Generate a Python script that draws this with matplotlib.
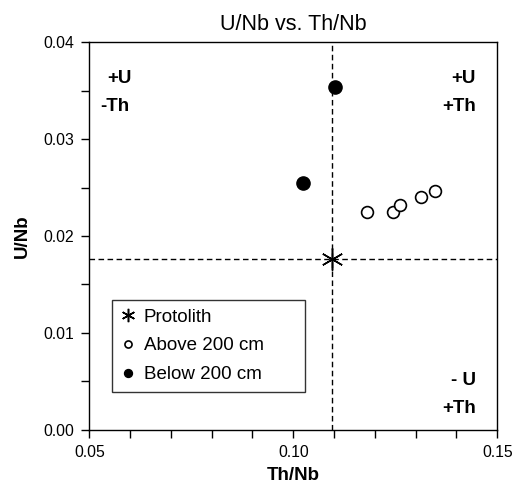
import matplotlib
matplotlib.use("Agg")
import matplotlib.pyplot as plt
from matplotlib.ticker import MultipleLocator

plt.rcParams['font.family'] = ['Liberation Sans', 'DejaVu Sans']

# data
protolith_x = [0.1094]
protolith_y = [0.0176]
above_x = [0.1181, 0.1245, 0.1262, 0.1313, 0.1348]
above_y = [0.0225, 0.0225, 0.0232, 0.0240, 0.0246]
below_x = [0.1025, 0.1102]
below_y = [0.0255, 0.0354]
ref_x = 0.1095
ref_y = 0.0176

fig = plt.figure(figsize=(5.23, 4.84), dpi=100)
ax = fig.add_axes([0.1707, 0.1116, 0.7801, 0.8016])

ax.axvline(ref_x, color='black', lw=1, ls=(0, (4, 2.5)), zorder=1)
ax.axhline(ref_y, color='black', lw=1, ls=(0, (4, 2.5)), zorder=1)

ax.plot(protolith_x, protolith_y, ls='none', marker=(6, 2, 0), ms=16,
        mec='black', mew=1.1, label='Protolith', zorder=3)
ax.plot(above_x, above_y, ls='none', marker='o', ms=8.5, mfc='white',
        mec='black', mew=1.2, label='Above 200 cm', zorder=3)
ax.plot(below_x, below_y, ls='none', marker='o', ms=9.5, mfc='black',
        mec='black', label='Below 200 cm', zorder=3)

ax.set_xlim(0.05, 0.15)
ax.set_ylim(0.0, 0.04)
ax.xaxis.set_major_locator(MultipleLocator(0.05))
ax.xaxis.set_minor_locator(MultipleLocator(0.01))
ax.yaxis.set_major_locator(MultipleLocator(0.01))
ax.yaxis.set_minor_locator(MultipleLocator(0.005))
ax.xaxis.set_major_formatter(plt.FormatStrFormatter('%.2f'))
ax.yaxis.set_major_formatter(plt.FormatStrFormatter('%.2f'))
ax.tick_params(which='both', direction='out', length=6, width=1, labelsize=11.3, pad=5)
for s in ax.spines.values():
    s.set_linewidth(1)

ax.set_title('U/Nb vs. Th/Nb', fontsize=15.5, pad=9)
ax.set_xlabel('Th/Nb', fontsize=13.5, fontweight='bold', labelpad=5)
ax.set_ylabel('U/Nb', fontsize=13.5, fontweight='bold', labelpad=9)

kw = dict(fontsize=13.5, fontweight='bold', transform=ax.transAxes)
ax.text(0.045, 0.907, '+U', ha='left', va='center', **kw)
ax.text(0.027, 0.835, '-Th', ha='left', va='center', **kw)
ax.text(0.947, 0.907, '+U', ha='right', va='center', **kw)
ax.text(0.947, 0.835, '+Th', ha='right', va='center', **kw)
ax.text(0.947, 0.128, '- U', ha='right', va='center', **kw)
ax.text(0.947, 0.056, '+Th', ha='right', va='center', **kw)

leg = ax.legend(loc='upper left', bbox_to_anchor=(0.055, 0.093, 0.474, 0.242),
                mode='expand', fontsize=13.5,
                frameon=True, fancybox=False, edgecolor='black', markerscale=0.6,
                handlelength=0.8, handletextpad=0.45, borderpad=0.45,
                labelspacing=0.62, borderaxespad=0)
leg.get_frame().set_linewidth(1)

fig.savefig('out.png', dpi=100)
